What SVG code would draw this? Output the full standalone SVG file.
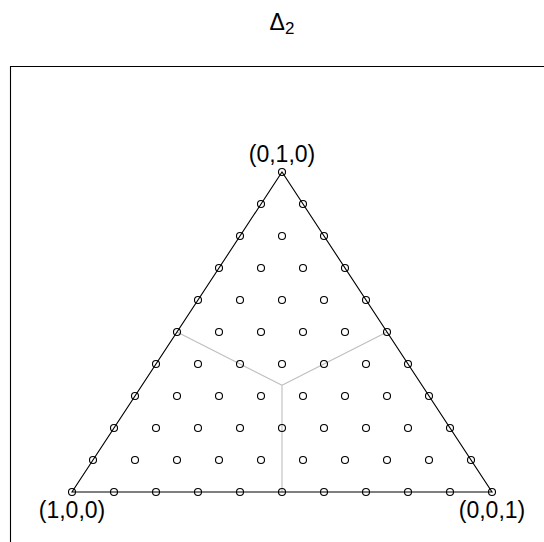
<svg xmlns="http://www.w3.org/2000/svg" width="544" height="542" viewBox="0 0 544 542">
<style>
.lbl{font-family:"Liberation Sans",Arial,sans-serif;font-size:23px;fill:#000;text-anchor:middle}
.pt{fill:none;stroke:#000;stroke-width:1.1}
.edge{stroke:#000;stroke-width:1.1;fill:none}
.div{stroke:#bebebe;stroke-width:1.1;fill:none}
</style>
<rect width="544" height="542" fill="#fff"/>
<path d="M10.5,545 V66.5 H545" fill="none" stroke="#000" stroke-width="1.1"/>
<text class="lbl" x="282" y="30">Δ<tspan font-size="17" dy="4">2</tspan></text>
<g id="connectors">
<path class="div" d="M282,385.3 V492 M282,385.3 L177,332 M282,385.3 L387,332"/>
<path class="edge" d="M72,492 H492 L282,172 Z"/>
</g>
<g id="points">
<circle class="pt" cx="72" cy="492" r="3.5"/><circle class="pt" cx="114" cy="492" r="3.5"/><circle class="pt" cx="156" cy="492" r="3.5"/><circle class="pt" cx="198" cy="492" r="3.5"/><circle class="pt" cx="240" cy="492" r="3.5"/><circle class="pt" cx="282" cy="492" r="3.5"/><circle class="pt" cx="324" cy="492" r="3.5"/><circle class="pt" cx="366" cy="492" r="3.5"/><circle class="pt" cx="408" cy="492" r="3.5"/><circle class="pt" cx="450" cy="492" r="3.5"/><circle class="pt" cx="492" cy="492" r="3.5"/>
<circle class="pt" cx="93" cy="460" r="3.5"/><circle class="pt" cx="135" cy="460" r="3.5"/><circle class="pt" cx="177" cy="460" r="3.5"/><circle class="pt" cx="219" cy="460" r="3.5"/><circle class="pt" cx="261" cy="460" r="3.5"/><circle class="pt" cx="303" cy="460" r="3.5"/><circle class="pt" cx="345" cy="460" r="3.5"/><circle class="pt" cx="387" cy="460" r="3.5"/><circle class="pt" cx="429" cy="460" r="3.5"/><circle class="pt" cx="471" cy="460" r="3.5"/>
<circle class="pt" cx="114" cy="428" r="3.5"/><circle class="pt" cx="156" cy="428" r="3.5"/><circle class="pt" cx="198" cy="428" r="3.5"/><circle class="pt" cx="240" cy="428" r="3.5"/><circle class="pt" cx="282" cy="428" r="3.5"/><circle class="pt" cx="324" cy="428" r="3.5"/><circle class="pt" cx="366" cy="428" r="3.5"/><circle class="pt" cx="408" cy="428" r="3.5"/><circle class="pt" cx="450" cy="428" r="3.5"/>
<circle class="pt" cx="135" cy="396" r="3.5"/><circle class="pt" cx="177" cy="396" r="3.5"/><circle class="pt" cx="219" cy="396" r="3.5"/><circle class="pt" cx="261" cy="396" r="3.5"/><circle class="pt" cx="303" cy="396" r="3.5"/><circle class="pt" cx="345" cy="396" r="3.5"/><circle class="pt" cx="387" cy="396" r="3.5"/><circle class="pt" cx="429" cy="396" r="3.5"/>
<circle class="pt" cx="156" cy="364" r="3.5"/><circle class="pt" cx="198" cy="364" r="3.5"/><circle class="pt" cx="240" cy="364" r="3.5"/><circle class="pt" cx="282" cy="364" r="3.5"/><circle class="pt" cx="324" cy="364" r="3.5"/><circle class="pt" cx="366" cy="364" r="3.5"/><circle class="pt" cx="408" cy="364" r="3.5"/>
<circle class="pt" cx="177" cy="332" r="3.5"/><circle class="pt" cx="219" cy="332" r="3.5"/><circle class="pt" cx="261" cy="332" r="3.5"/><circle class="pt" cx="303" cy="332" r="3.5"/><circle class="pt" cx="345" cy="332" r="3.5"/><circle class="pt" cx="387" cy="332" r="3.5"/>
<circle class="pt" cx="198" cy="300" r="3.5"/><circle class="pt" cx="240" cy="300" r="3.5"/><circle class="pt" cx="282" cy="300" r="3.5"/><circle class="pt" cx="324" cy="300" r="3.5"/><circle class="pt" cx="366" cy="300" r="3.5"/>
<circle class="pt" cx="219" cy="268" r="3.5"/><circle class="pt" cx="261" cy="268" r="3.5"/><circle class="pt" cx="303" cy="268" r="3.5"/><circle class="pt" cx="345" cy="268" r="3.5"/>
<circle class="pt" cx="240" cy="236" r="3.5"/><circle class="pt" cx="282" cy="236" r="3.5"/><circle class="pt" cx="324" cy="236" r="3.5"/>
<circle class="pt" cx="261" cy="204" r="3.5"/><circle class="pt" cx="303" cy="204" r="3.5"/>
<circle class="pt" cx="282" cy="172" r="3.5"/>
</g>
<g id="v010"><text class="lbl" x="282" y="162">(0,1,0)</text></g>
<g id="v100"><text class="lbl" x="72" y="518">(1,0,0)</text></g>
<g id="v001"><text class="lbl" x="492" y="518">(0,0,1)</text></g>
</svg>
